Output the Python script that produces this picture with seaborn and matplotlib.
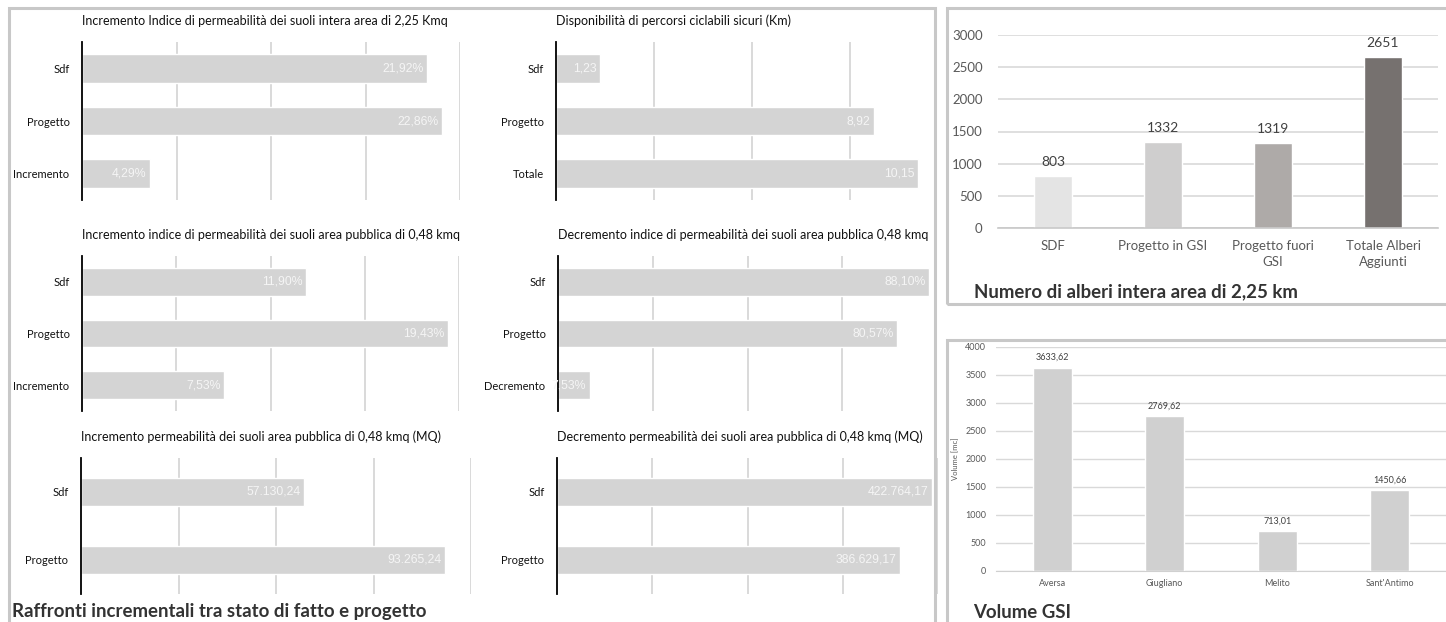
"""
Raffronti incrementali + alberi + volume GSI
"""
import matplotlib
matplotlib.use('Agg')
import matplotlib.pyplot as plt
import matplotlib.patches as patches
import seaborn as sns
import numpy as np

sns.set_style('white')
plt.rcParams['font.family'] = ['Lato', 'DejaVu Sans']

# ---------------------------------------------------------------------------
# Data
# ---------------------------------------------------------------------------
cats_inc = ['Sdf', 'Progetto', 'Incremento']
cats_tot = ['Sdf', 'Progetto', 'Totale']
cats_dec = ['Sdf', 'Progetto', 'Decremento']
cats_mq = ['Sdf', 'Progetto']

perm_intera = [21.92, 22.86, 4.29]
ciclabili = [1.23, 8.92, 10.15]
perm_pubblica = [11.90, 19.43, 7.53]
decr_pubblica = [88.10, 80.57, 7.53]
perm_mq = [57130.24, 93265.24]
decr_mq = [422764.17, 386629.17]

alberi_cats = ['SDF', 'Progetto in GSI', 'Progetto fuori\nGSI', 'Totale Alberi\nAggiunti']
alberi_vals = [803, 1332, 1319, 2651]
alberi_colors = ['#e4e4e4', '#cfcece', '#aeaaa8', '#76716f']

gsi_cats = ['Aversa', 'Giugliano', 'Melito', "Sant'Antimo"]
gsi_vals = [3633.62, 2769.62, 713.01, 1450.66]

W, H = 1446, 622


def px_rect(x0, y0, x1, y1):
    return [x0 / W, 1 - y1 / H, (x1 - x0) / W, (y1 - y0) / H]


def fmt_it(v, pct=False, thousands=True):
    s = f'{v:,.2f}' if thousands else f'{v:.2f}'
    s = s.replace(',', 'X').replace('.', ',').replace('X', '.')
    return s + '%' if pct else s


BAR = '#d4d4d4'
GRID = '#d9d9d9'
BOLD_SIZE = 13.4

fig = plt.figure(figsize=(W / 100, H / 100), dpi=100)

# panel frames
for (x0, y0, x1, y1) in [(9, 8, 935, 660), (947, 8, 1460, 304), (947, 340, 1460, 660)]:
    fig.add_artist(patches.Rectangle((x0 / W, 1 - y1 / H), (x1 - x0) / W, (y1 - y0) / H,
                                     transform=fig.transFigure, fill=False,
                                     edgecolor='#c8c8c8', lw=2.2))


def hbar(rect, cats, vals, xlim, ticks, title, pct, width):
    ax = fig.add_axes(px_rect(*rect))
    sns.barplot(x=vals, y=cats, orient='h', color=BAR, saturation=1,
                width=width, ax=ax)
    ax.set_xlim(*xlim)
    ax.set_xticks(ticks)
    ax.grid(axis='x', color=GRID, lw=1.4)
    ax.set_axisbelow(True)
    ax.tick_params(axis='x', length=0, labelbottom=False)
    ax.tick_params(axis='y', length=0, pad=9, labelsize=8, labelcolor='#111111')
    for s in ['top', 'right', 'bottom']:
        ax.spines[s].set_visible(False)
    ax.spines['left'].set_color('black')
    ax.spines['left'].set_linewidth(1.3)
    ax.set_xlabel('')
    ax.set_ylabel('')
    ax.set_title(title, loc='left', fontsize=9, pad=12, color='#111111')
    for i, v in enumerate(vals):
        lab = fmt_it(v, pct)
        ax.annotate(lab, (v, i), xytext=(-2.5, 0), textcoords='offset points',
                    ha='right', va='center', color='#f5f5f5', fontsize=8.8,
                    family='Liberation Sans')
    return ax


hbar((82, 42, 460, 200), cats_inc, perm_intera, (0, 24), [6, 12, 18, 24],
     'Incremento Indice di permeabilità dei suoli intera area di 2,25 Kmq', True, 0.54)
hbar((556, 42, 934, 200), cats_tot, ciclabili, (0, 10.6), [2.75, 5.5, 8.25],
     'Disponibilità di percorsi ciclabili sicuri (Km)', False, 0.54)
hbar((82, 256, 459, 411), cats_inc, perm_pubblica, (0, 20), [5, 10, 15, 20],
     'Incremento indice di permeabilità dei suoli area pubblica di 0,48 kmq', True, 0.54)
hbar((558, 256, 937, 411), cats_dec, decr_pubblica, (0, 90), [22.5, 45, 67.5, 90],
     'Decremento indice di permeabilità dei suoli area pubblica 0,48 kmq', True, 0.54)
hbar((81, 458, 471, 594), cats_mq, perm_mq, (0, 100000), [25000, 50000, 75000, 100000],
     'Incremento permeabilità dei suoli area pubblica di 0,48 kmq (MQ)', False, 0.4)
hbar((557, 458, 938, 594), cats_mq, decr_mq, (0, 430000), [107500, 215000, 322500, 430000],
     'Decremento permeabilità dei suoli area pubblica di 0,48 kmq (MQ)', False, 0.4)

fig.text(12 / W, 1 - 611 / H, 'Raffronti incrementali tra stato di fatto e progetto',
         fontsize=BOLD_SIZE, fontweight='bold', color='#333333', va='center', ha='left')

# ---------------------------------------------------------------------------
# Numero di alberi
# ---------------------------------------------------------------------------
ax = fig.add_axes(px_rect(998, 35, 1438, 228))
sns.barplot(x=alberi_cats, y=alberi_vals, hue=alberi_cats, palette=alberi_colors,
            saturation=1, width=0.34, legend=False, ax=ax)
ax.set_ylim(0, 3000)
ax.set_yticks(np.arange(0, 3001, 500))
ax.grid(axis='y', color=GRID, lw=1.2)
ax.set_axisbelow(True)
for s in ['top', 'right', 'left']:
    ax.spines[s].set_visible(False)
ax.spines['bottom'].set_color('#c8c8c8')
ax.spines['bottom'].set_linewidth(1.2)
ax.tick_params(axis='y', length=0, pad=11, labelsize=9.5, labelcolor='#595959')
ax.tick_params(axis='x', length=0, pad=9, labelsize=9.5, labelcolor='#595959')
for t in ax.get_xticklabels():
    t.set_linespacing(1.35)
ax.set_xticks(np.arange(-0.5, len(alberi_cats), 1), minor=True)
ax.tick_params(axis='x', which='minor', length=4, color='#c8c8c8', width=1.2)
ax.set_xlim(-0.5, len(alberi_cats) - 0.5)
ax.set_xlabel('')
ax.set_ylabel('')
for i, v in enumerate(alberi_vals):
    ax.annotate(f'{v}', (i, v), xytext=(0, 6), textcoords='offset points',
                ha='center', va='bottom', fontsize=10, color='#404040')

fig.text(974 / W, 1 - 292 / H, 'Numero di alberi intera area di 2,25 km',
         fontsize=BOLD_SIZE, fontweight='bold', color='#333333', va='center', ha='left')

# ---------------------------------------------------------------------------
# Volume GSI
# ---------------------------------------------------------------------------
ax = fig.add_axes(px_rect(996, 347, 1446, 571))
sns.barplot(x=gsi_cats, y=gsi_vals, color='#d0d0d0', saturation=1, width=0.35, ax=ax)
ax.set_ylim(0, 4000)
ax.set_yticks(np.arange(0, 4001, 500))
ax.grid(axis='y', color=GRID, lw=1.0)
ax.set_axisbelow(True)
for s in ['top', 'right', 'left']:
    ax.spines[s].set_visible(False)
ax.spines['bottom'].set_color('#d0d0d0')
ax.tick_params(axis='y', length=0, pad=7, labelsize=6.5, labelcolor='#595959')
ax.tick_params(axis='x', length=0, pad=6, labelsize=6.5, labelcolor='#595959')
ax.set_xlabel('')
ax.set_ylabel('Volume [mc]', fontsize=5.5, color='#595959', labelpad=4)
for i, v in enumerate(gsi_vals):
    ax.annotate(fmt_it(v, thousands=False), (i, v), xytext=(0, 4), textcoords='offset points',
                ha='center', va='bottom', fontsize=6.5, color='#404040')

fig.text(973 / W, 1 - 612 / H, 'Volume GSI',
         fontsize=BOLD_SIZE, fontweight='bold', color='#333333', va='center', ha='left')

plt.savefig('out.png', dpi=100)
plt.close()
